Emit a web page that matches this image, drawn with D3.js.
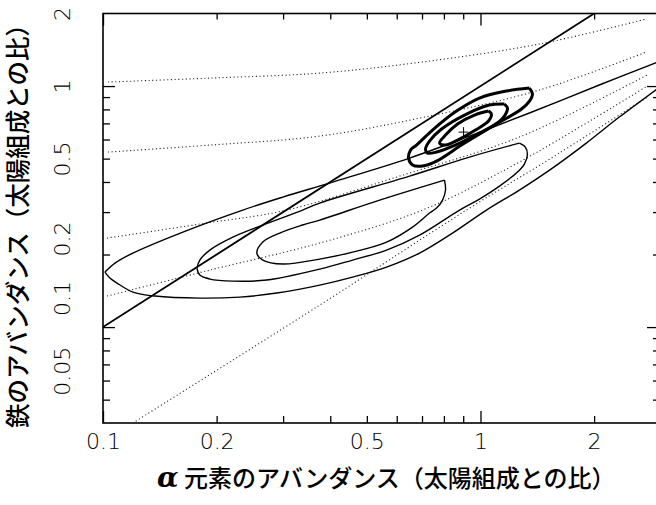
<!DOCTYPE html>
<html>
<head>
<meta charset="utf-8">
<script src="https://cdn.jsdelivr.net/npm/d3@7"></script>
<style>
  html, body { margin: 0; padding: 0; background: #fff; }
  svg { display: block; }
</style>
</head>
<body>
<svg id="chart" width="656" height="505"></svg>
<script>
// ---------------- DATA ----------------
const xLabelTicks = [0.1, 0.2, 0.5, 1, 2];
const yLabelTicks = [0.05, 0.1, 0.2, 0.5, 1, 2];
const xMajorTicks = [0.1, 1];
const xMinorTicks = [0.2, 0.3, 0.4, 0.5, 0.6, 0.7, 0.8, 0.9, 2];
const yMajorTicks = [0.1, 1];
const yMinorTicks = [0.05, 0.06, 0.07, 0.08, 0.09, 0.2, 0.3, 0.4, 0.5, 0.6, 0.7, 0.8, 0.9];

const xTitleSymbol = "α";
const xTitleText = "元素のアバンダンス（太陽組成との比）";
const yTitleText = "鉄のアバンダンス（太陽組成との比）";

// solid straight line (Fe/α = solar)
const solarLine = [[0.1, 0.1], [2, 2]];

// outermost thin contour: upper and lower branches from the left tip
const outerUpper = [[0.1012,0.1691],[0.1076,0.1843],[0.1200,0.2028],[0.1628,0.2479],[0.2346,0.3059],[0.2995,0.3463],[0.406,0.3997],[0.649,0.5026],[0.935,0.620],[1.348,0.773],[2.064,1.01],[2.93,1.252]];
const outerLower = [[0.1012,0.1691],[0.1043,0.1597],[0.1089,0.1523],[0.1200,0.1397],[0.1373,0.1345],[0.1805,0.1319],[0.2304,0.1332],[0.2886,0.1384],[0.3751,0.1494],[0.4585,0.1612],[0.564,0.1774],[0.6896,0.2028],[0.8431,0.2455],[1.037,0.3059],[1.268,0.3703],[1.551,0.4567],[1.907,0.580],[2.332,0.7436],[2.93,0.97]];

// middle thin contour
const middleUpper = [[0.1773,0.1757],[0.1805,0.1897],[0.1919,0.2087],[0.2208,0.2362],[0.2651,0.2651],[0.3381,0.3059],[0.3751,0.3270],[0.649,0.4231],[0.935,0.5074],[1.268,0.580]];
const middleRest = [[1.268,0.580],[1.315,0.5583],[1.331,0.5172],[1.307,0.4747],[1.245,0.4355],[1.123,0.3847],[0.994,0.3398],[0.880,0.3059],[0.6896,0.2408],[0.564,0.2087],[0.4585,0.1897],[0.3751,0.1740],[0.2716,0.1567],[0.2208,0.1552],[0.1919,0.1582],[0.1805,0.1643],[0.1773,0.1757]];

// inner thin contour
const innerThin = [[0.803,0.4074],[0.808,0.3703],[0.7935,0.3365],[0.765,0.3117],[0.7327,0.2972],[0.6607,0.26],[0.564,0.2253],[0.4585,0.2047],[0.3751,0.1915],[0.2995,0.1826],[0.2651,0.1897],[0.2556,0.2028],[0.2651,0.2253],[0.2939,0.2455],[0.3381,0.2651],[0.3751,0.278],[0.5405,0.3365],[0.803,0.4074]];

// thick contours around the best fit
const thickOuter = [[1.348,0.981],[1.373,0.9264],[1.348,0.8665],[1.284,0.8028],[1.102,0.6957],[0.8906,0.569],[0.765,0.4884],[0.7024,0.4656],[0.6607,0.4702],[0.645,0.5026],[0.653,0.5427],[0.677,0.569],[0.7464,0.657],[0.864,0.7874],[0.994,0.8917],[1.172,0.9534],[1.348,0.981]];
const thickMiddle = [[1.157,0.842],[1.179,0.8101],[1.157,0.7507],[1.116,0.7089],[0.994,0.638],[0.8693,0.5743],[0.765,0.5323],[0.7239,0.5272],[0.7151,0.5478],[0.7327,0.5911],[0.7887,0.6632],[0.9184,0.7652],[1.056,0.834],[1.157,0.842]];
const thickInner = [[1.050,0.7874],[1.069,0.7652],[1.050,0.7158],[0.970,0.657],[0.880,0.6026],[0.808,0.569],[0.779,0.580],[0.808,0.626],[0.8693,0.6957],[0.964,0.758],[1.050,0.7874]];

const bestFit = [0.902, 0.644];

// dotted model tracks
const track1 = [[0.1031,1.039],[0.1919,1.079],[0.3751,1.132],[0.7327,1.270],[1.432,1.494],[2.749,1.897]];
const track2 = [[0.1031,0.5323],[0.1919,0.569],[0.3751,0.620],[0.7327,0.7507],[1.432,0.9625],[2.749,1.384]];
const track3 = [[0.1025,0.234],[0.1805,0.2676],[0.3068,0.3059],[0.6107,0.4231],[1.268,0.6144],[2.766,1.111]];
const track4 = [[0.1025,0.1345],[0.1919,0.1724],[0.3751,0.2232],[0.7024,0.3059],[1.268,0.4838],[2.766,1.0]];
const track5 = [[0.1200,0.04],[0.3751,0.1234],[0.9184,0.3059],[1.618,0.5272],[2.766,0.9]];

// ---------------- LAYOUT ----------------
const plot = { left: 103, right: 657, top: 13.5, bottom: 423 };
const xDomain = [0.1, 2.935];
const yDomain = [0.04, 2];
// the printed y labels sit a little above their ticks in the original figure (px)
const yLabelNudge = { 0.05: -29, 0.1: -29, 0.2: -16, 0.5: 0, 1: 0, 2: 0 };

const svg = d3.select("#chart");
const x = d3.scaleLog().domain(xDomain).range([plot.left, plot.right]);
const y = d3.scaleLog().domain(yDomain).range([plot.bottom, plot.top]);

const tickFont = "'DejaVu Sans', sans-serif";
const cjkFont = "'Noto Sans CJK JP', 'Noto Sans CJK SC', sans-serif";

svg.append("clipPath").attr("id", "plotclip")
  .append("rect")
  .attr("x", plot.left).attr("y", plot.top)
  .attr("width", plot.right - plot.left).attr("height", plot.bottom - plot.top);

// ---- ticks (inward) ----
function tickAxis(axisFn, scale, values, size, transform) {
  const g = svg.append("g").attr("transform", transform)
    .call(axisFn(scale).tickValues(values).tickSize(size).tickFormat(""));
  g.select(".domain").remove();
  g.selectAll("line").attr("stroke", "#000").attr("stroke-width", 1.3);
  return g;
}
tickAxis(d3.axisBottom, x, xMinorTicks, -7, `translate(0,${plot.bottom})`);
tickAxis(d3.axisBottom, x, xMajorTicks, -12, `translate(0,${plot.bottom})`);
tickAxis(d3.axisTop, x, xMinorTicks, -6, `translate(0,${plot.top})`);
tickAxis(d3.axisTop, x, xMajorTicks, -12, `translate(0,${plot.top})`);
tickAxis(d3.axisLeft, y, yMinorTicks, -7, `translate(${plot.left},0)`);
tickAxis(d3.axisLeft, y, yMajorTicks, -12, `translate(${plot.left},0)`);
tickAxis(d3.axisRight, y, yMinorTicks, -4, `translate(${plot.right},0)`);
tickAxis(d3.axisRight, y, yMajorTicks, -10, `translate(${plot.right},0)`);

// ---- frame ----
svg.append("rect")
  .attr("x", plot.left).attr("y", plot.top)
  .attr("width", plot.right - plot.left).attr("height", plot.bottom - plot.top)
  .attr("fill", "none").attr("stroke", "#000").attr("stroke-width", 1.6);

// ---- tick labels ----
const fmt = d => String(d);
const xl = svg.append("g").attr("transform", `translate(0,${plot.bottom})`)
  .call(d3.axisBottom(x).tickValues(xLabelTicks).tickSize(0).tickFormat(fmt));
xl.select(".domain").remove();
xl.selectAll("text")
  .attr("y", 18).attr("dy", "0.36em")
  .attr("font-family", tickFont).attr("font-weight", 200)
  .attr("font-size", 22).attr("fill", "#000");

const yl = svg.append("g").attr("transform", `translate(${plot.left},0)`)
  .call(d3.axisLeft(y).tickValues(yLabelTicks).tickSize(0).tickFormat(fmt));
yl.select(".domain").remove();
yl.selectAll("text")
  .attr("x", 0).attr("y", 0).attr("dy", "0.36em")
  .attr("text-anchor", "middle")
  .attr("transform", d => `translate(-41,${yLabelNudge[d] || 0}) rotate(-90)`)
  .attr("font-family", tickFont).attr("font-weight", 200)
  .attr("font-size", 22).attr("fill", "#000");

// ---- titles ----
const xt = svg.append("text")
  .attr("y", 478).attr("dy", "0.36em")
  .attr("font-family", cjkFont).attr("font-weight", 500)
  .attr("font-size", 24).attr("fill", "#000");
xt.append("tspan").attr("x", 157).text(xTitleSymbol)
  .attr("font-family", "'DejaVu Serif', serif").attr("font-style", "italic")
  .attr("font-weight", "bold").attr("font-size", 28);
xt.append("tspan").attr("x", 184).text(xTitleText);

svg.append("text")
  .attr("transform", `translate(18,220) rotate(-90)`)
  .attr("text-anchor", "middle").attr("dy", "0.36em")
  .attr("font-family", cjkFont).attr("font-weight", 500)
  .attr("font-size", 24.5).attr("fill", "#000")
  .text(yTitleText);

// ---- marks ----
const marks = svg.append("g").attr("clip-path", "url(#plotclip)");
const lineSmooth = d3.line().x(d => x(d[0])).y(d => y(d[1])).curve(d3.curveCatmullRom.alpha(0.5));
const lineStraight = d3.line().x(d => x(d[0])).y(d => y(d[1]));

[track1, track2, track3, track4, track5].forEach(t => {
  marks.append("path").attr("d", lineSmooth(t))
    .attr("fill", "none").attr("stroke", "#222")
    .attr("stroke-width", 1.1).attr("stroke-dasharray", "1.1,2.6");
});

marks.append("path").attr("d", lineStraight(solarLine))
  .attr("fill", "none").attr("stroke", "#000").attr("stroke-width", 1.8);

[outerUpper, outerLower, middleUpper, middleRest, innerThin].forEach(c => {
  marks.append("path").attr("d", lineSmooth(c))
    .attr("fill", "none").attr("stroke", "#000")
    .attr("stroke-width", 1.4).attr("stroke-linejoin", "round");
});

[thickOuter, thickMiddle, thickInner].forEach(c => {
  marks.append("path").attr("d", lineSmooth(c))
    .attr("fill", "none").attr("stroke", "#000")
    .attr("stroke-width", 3).attr("stroke-linejoin", "round");
});

// best-fit cross
const bx = x(bestFit[0]), by = y(bestFit[1]);
marks.append("path")
  .attr("d", `M${bx - 5},${by}H${bx + 5}M${bx},${by - 5}V${by + 5}`)
  .attr("stroke", "#000").attr("stroke-width", 1);
</script>
</body>
</html>
